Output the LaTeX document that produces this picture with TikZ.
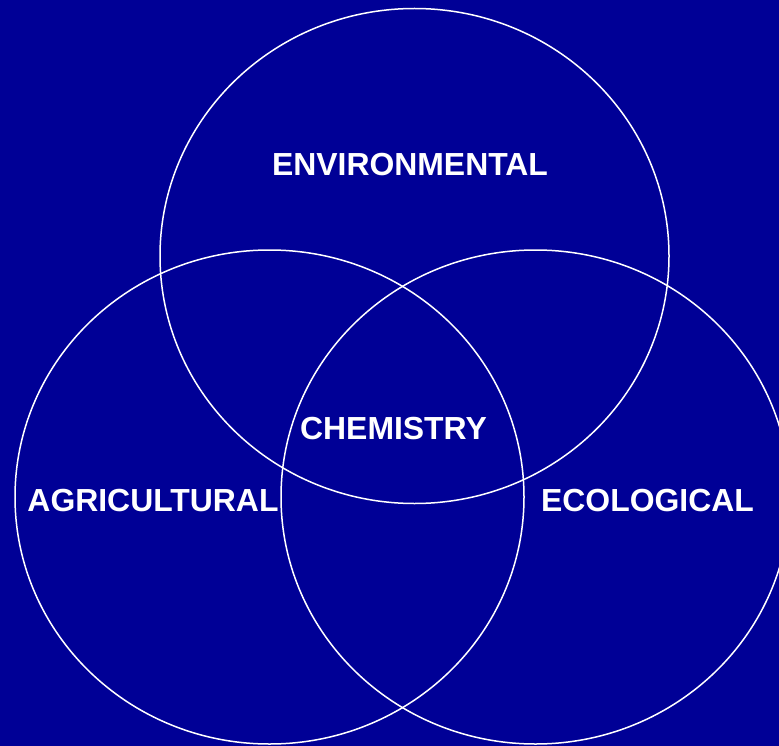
\documentclass[tikz,border=0pt]{standalone}
\usepackage{fontspec}
\setmainfont{Liberation Sans}
\definecolor{bg}{RGB}{0,0,150}
\begin{document}
\begin{tikzpicture}[x=1pt,y=-1pt,
  ring/.style={draw=white,line width=1.5pt},
  lbl/.style={text=white,font=\fontsize{31.9}{34}\selectfont\bfseries,inner sep=0pt,anchor=center}]
\fill[bg] (0,0) rectangle (779,746);
\useasboundingbox (0,0) rectangle (779,746);
\begin{scope}
\clip (0,0) rectangle (779,746);
\draw[ring] (414.5,256) ellipse [x radius=254.5, y radius=247.5];
\draw[ring] (269.5,497) ellipse [x radius=254.5, y radius=247];
\draw[ring] (535.5,497) ellipse [x radius=254.5, y radius=247];
\end{scope}
\node[lbl] (env) at (410,164.5) {ENVIRONMENTAL};
\node[lbl] (chem) at (393.5,428.5) {CHEMISTRY};
\node[lbl] (agr) at (153,501) {AGRICULTURAL};
\node[lbl] (eco) at (647.5,500.5) {ECOLOGICAL};
\end{tikzpicture}
\end{document}
